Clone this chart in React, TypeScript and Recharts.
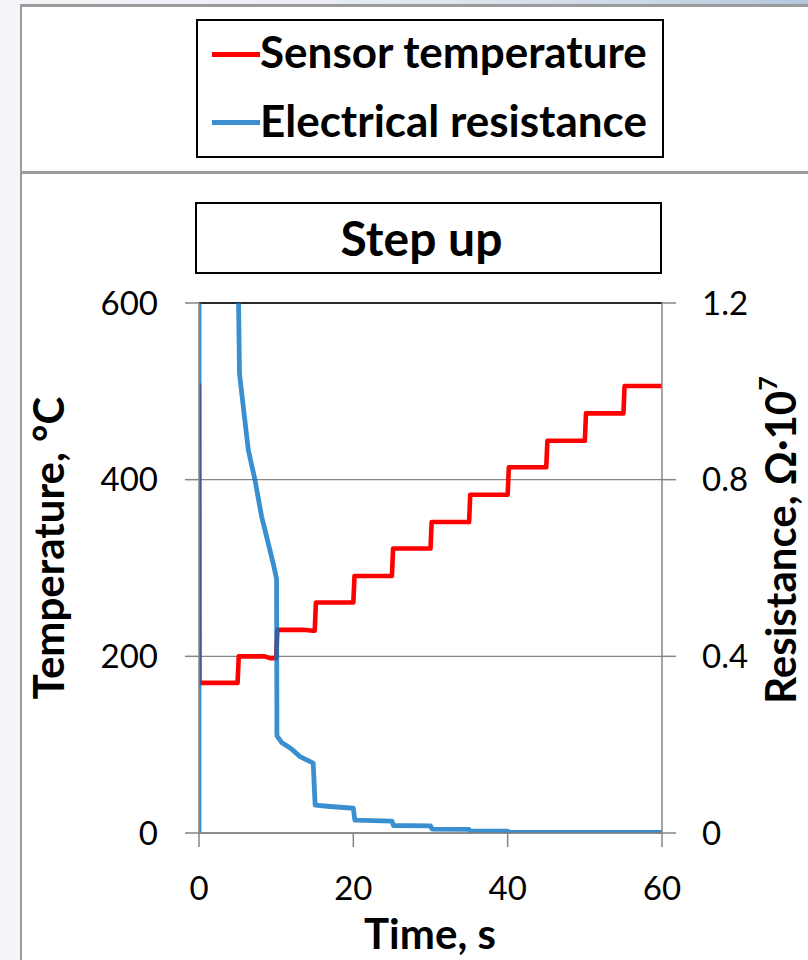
import React from 'react';
import { LineChart, Line, XAxis, YAxis, CartesianGrid, ReferenceLine } from 'recharts';

// Sensor temperature (°C) vs time (s)
const tempTime = [0, 0.05, 5, 5.15, 8.5, 9.2, 10, 10.15, 13.5, 14.8, 15, 15.15, 20, 20.15, 25, 25.15, 30, 30.15, 35, 35.15, 40, 40.15, 45, 45.15, 50, 50.15, 55, 55.15, 60];
const tempValues = [509, 170, 170, 200, 200, 198, 198, 230, 230, 229, 229, 261, 261, 291, 291, 322, 322, 352, 352, 383, 383, 414, 414, 444, 444, 475, 475, 506, 506];

// Electrical resistance (Ω·10^7) vs time (s)
const resTime = [0, 0.02, 4.95, 5.05, 5.25, 5.74, 6.39, 7.25, 8.12, 9.2, 9.75, 10.05, 10.1, 10.7, 12, 13.1, 14.8, 15.05, 17, 20, 20.2, 25, 25.2, 30, 30.2, 35, 35.2, 40, 40.2, 60];
const resValues = [0, 3.0, 1.5, 1.3, 1.04, 0.965, 0.867, 0.8, 0.716, 0.64, 0.6, 0.575, 0.22, 0.205, 0.19, 0.173, 0.158, 0.063, 0.06, 0.056, 0.029, 0.027, 0.017, 0.016, 0.009, 0.008, 0.004, 0.004, 0.0015, 0.0015];

const xTicks = [0, 20, 40, 60];
const tempTicks = [0, 200, 400, 600];
const resTicks = [0, 0.4, 0.8, 1.2];

const seriesNames = ['Sensor temperature', 'Electrical resistance'];
const seriesColors = ['#ff0000', '#3a8fd0'];

const tempData = tempTime.map((t, i) => ({ t, temp: tempValues[i] }));
const resData = resTime.map((t, i) => ({ t, res: resValues[i] }));

const FONT = 'Lato, "Open Sans", sans-serif';
const AXIS = '#868686';
const tickStyle = { fill: '#000', fontSize: 33, fontFamily: FONT };

export default function App() {
  return (
    <div
      style={{
        position: 'absolute',
        left: 0,
        top: 0,
        width: 808,
        height: 960,
        overflow: 'hidden',
        background: 'linear-gradient(90deg,#f3f5f8 0%,#e9edf2 40%,#cbd8e6 80%,#b3c8de 100%)',
        fontFamily: FONT,
      }}
    >
      {/* top panel */}
      <div
        style={{
          position: 'absolute', left: 20, top: 4, width: 800, height: 170,
          background: '#fff', boxSizing: 'border-box',
          borderLeft: '2px solid #9b9b9b', borderTop: '3px solid #9b9b9b', borderBottom: '3px solid #9b9b9b',
        }}
      />
      {/* bottom panel */}
      <div
        style={{
          position: 'absolute', left: 20, top: 174, width: 800, height: 800,
          background: '#fff', boxSizing: 'border-box', borderLeft: '2px solid #9b9b9b',
        }}
      />
      {/* legend */}
      <div
        style={{
          position: 'absolute', left: 196, top: 19, width: 468, height: 139,
          border: '2.5px solid #000', boxSizing: 'border-box', background: '#fff',
        }}
      >
        {seriesNames.map((name, i) => (
          <div
            key={name}
            style={{ position: 'absolute', left: 14, top: i === 0 ? 7 : 76, display: 'flex', alignItems: 'flex-start', height: 46 }}
          >
            <div style={{ width: 48, height: 5, marginTop: i === 0 ? 24 : 23, background: seriesColors[i] }} />
            <span style={{ fontWeight: 700, fontSize: 44, lineHeight: '46px', color: '#000', whiteSpace: 'nowrap' }}>{name}</span>
          </div>
        ))}
      </div>
      {/* title */}
      <div
        style={{
          position: 'absolute', left: 195, top: 202, width: 467, height: 72,
          border: '2px solid #000', boxSizing: 'border-box', background: '#fff',
          display: 'flex', alignItems: 'center', justifyContent: 'center',
          paddingRight: 14, paddingBottom: 2,
          fontWeight: 700, fontSize: 48, color: '#000',
        }}
      >
        Step up
      </div>

      <div style={{ position: 'absolute', left: 0, top: 0 }}>
        <LineChart width={808} height={960} margin={{ top: 303, left: 139, right: 86, bottom: 67 }}>
          <CartesianGrid yAxisId="left" vertical={false} stroke={AXIS} strokeWidth={1.3} />
          <XAxis
            dataKey="t"
            type="number"
            domain={[0, 60]}
            ticks={xTicks}
            allowDataOverflow
            height={60}
            tick={tickStyle}
            tickSize={14}
            tickMargin={30}
            axisLine={{ stroke: AXIS, strokeWidth: 1.5 }}
            tickLine={{ stroke: AXIS, strokeWidth: 1.5 }}
          />
          <YAxis
            yAxisId="left"
            orientation="left"
            domain={[0, 600]}
            ticks={tempTicks}
            width={60}
            tick={tickStyle}
            tickSize={14}
            tickMargin={27}
            axisLine={{ stroke: AXIS, strokeWidth: 1.5 }}
            tickLine={{ stroke: AXIS, strokeWidth: 1.5 }}
          />
          <YAxis
            yAxisId="right"
            orientation="right"
            domain={[0, 1.2]}
            ticks={resTicks}
            allowDataOverflow
            width={60}
            tick={tickStyle}
            tickSize={14}
            tickMargin={26}
            axisLine={{ stroke: AXIS, strokeWidth: 1.5 }}
            tickLine={{ stroke: AXIS, strokeWidth: 1.5 }}
          />
          <ReferenceLine yAxisId="left" y={600} stroke="#000" strokeWidth={1.5} />
          <Line
            yAxisId="left"
            data={tempData}
            dataKey="temp"
            name={seriesNames[0]}
            type="linear"
            stroke={seriesColors[0]}
            strokeWidth={4.6}
            strokeLinejoin="round"
            dot={false}
            activeDot={false}
            isAnimationActive={false}
          />
          <Line
            yAxisId="right"
            data={resData}
            dataKey="res"
            name={seriesNames[1]}
            type="linear"
            stroke="#0973c4"
            strokeOpacity={0.8}
            strokeWidth={4.8}
            strokeLinejoin="round"
            dot={false}
            activeDot={false}
            isAnimationActive={false}
          />
        </LineChart>
      </div>

      {/* axis titles */}
      <div
        style={{
          position: 'absolute', left: 48, top: 548, transform: 'translate(-50%,-50%) rotate(-90deg)',
          whiteSpace: 'nowrap', fontWeight: 700, fontSize: 42, color: '#000', lineHeight: 1,
        }}
      >
        Temperature, °C
      </div>
      <div
        style={{
          position: 'absolute', left: 780, top: 540, transform: 'translate(-50%,-50%) rotate(-90deg)',
          whiteSpace: 'nowrap', fontWeight: 700, fontSize: 42, color: '#000', lineHeight: 1,
        }}
      >
        Resistance, Ω·10<span style={{ fontSize: '0.6em', position: 'relative', top: '-0.75em', lineHeight: 0 }}>7</span>
      </div>
      <div
        style={{
          position: 'absolute', left: 430, top: 933, transform: 'translate(-50%,-50%)',
          whiteSpace: 'nowrap', fontWeight: 700, fontSize: 42, color: '#000', lineHeight: 1,
        }}
      >
        Time, s
      </div>
    </div>
  );
}
